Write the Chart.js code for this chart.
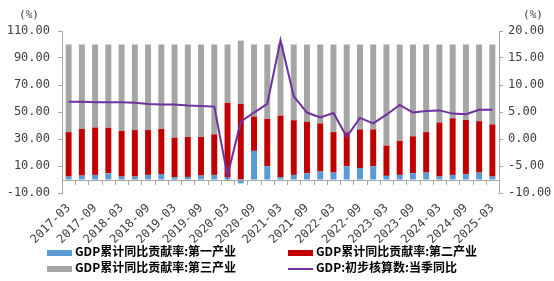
<!DOCTYPE html>
<html>
<head>
<meta charset="utf-8">
<script src="https://cdn.jsdelivr.net/npm/chart.js@4"></script>
<style>
    html, body { margin: 0; padding: 0; background: #fff; }
    #wrap { position: relative; width: 554px; height: 281px; }
    #legend { position: absolute; left: 0; top: 243px; width: 554px; font-family: "Noto Sans CJK SC", sans-serif; font-size: 12px; font-weight: bold; color: #000; }
    .item { position: absolute; height: 16px; line-height: 16px; white-space: nowrap; }
    .swatch { display: inline-block; width: 25px; vertical-align: middle; margin-right: 3px; }
</style>
</head>
<body>
<div id="wrap">
    <canvas id="chart" width="554" height="281"></canvas>
    <div id="legend"></div>
</div>
<script>
// Quarter labels
const quarters = [
    '2017-03', '2017-06', '2017-09', '2017-12',
    '2018-03', '2018-06', '2018-09', '2018-12',
    '2019-03', '2019-06', '2019-09', '2019-12',
    '2020-03', '2020-06', '2020-09', '2020-12',
    '2021-03', '2021-06', '2021-09', '2021-12',
    '2022-03', '2022-06', '2022-09', '2022-12',
    '2023-03', '2023-06', '2023-09', '2023-12',
    '2024-03', '2024-06', '2024-09', '2024-12',
    '2025-03'
];

// Contribution rates (%), left axis
const primary = [2.2, 2.9, 3.4, 4.6, 2.2, 2.2, 3.4, 4.1, 1.7, 1.9, 2.9, 3.4, 1.7, -2.9, 21.2, 9.8,
    1.7, 3.4, 4.6, 5.9, 5.1, 9.8, 8.5, 9.8, 2.7, 3.4, 4.6, 5.1, 2.2, 3.4, 3.9, 5.1, 2.2];
const secondary = [32.9, 34.6, 35.1, 33.7, 33.7, 34.4, 33.2, 33.4, 29.3, 29.6, 28.6, 30.0, 55.1, 55.9, 25.4, 35.1,
    45.6, 40.5, 38.1, 35.6, 30.0, 25.1, 28.6, 27.3, 22.4, 25.1, 27.4, 30.0, 40.0, 42.0, 40.2, 38.1, 38.6];
const tertiary = [64.9, 62.5, 61.5, 61.7, 64.1, 63.4, 63.4, 62.5, 69.0, 68.5, 68.5, 66.6, 43.2, 47.0, 53.4, 55.1,
    52.7, 56.1, 57.3, 58.5, 64.9, 65.1, 62.9, 62.9, 74.9, 71.5, 68.0, 64.9, 57.8, 54.6, 55.9, 56.8, 59.2];

// GDP quarterly YoY (%), right axis
const gdpYoy = [6.9, 6.9, 6.8, 6.8, 6.8, 6.7, 6.5, 6.4, 6.4, 6.2, 6.1, 6.0, -6.8, 3.2, 4.9, 6.5,
    18.3, 7.9, 4.9, 4.0, 4.8, 0.4, 3.9, 2.9, 4.5, 6.3, 4.9, 5.2, 5.3, 4.7, 4.6, 5.4, 5.4];

// Series names
const seriesNames = [
    'GDP累计同比贡献率:第一产业',
    'GDP累计同比贡献率:第二产业',
    'GDP累计同比贡献率:第三产业',
    'GDP:初步核算数:当季同比'
];

const colors = ['#5B9BD5', '#C00000', '#A5A5A5', '#7030A0'];
const axisColor = '#A6A6A6';
const tickFont = { family: 'DejaVu Sans Mono', size: 12 };

// Zero line with category ticks, plus the (%) unit labels
const extrasPlugin = {
    id: 'extras',
    afterDraw(chart) {
        const { ctx, chartArea, scales } = chart;
        const y0 = scales.y.getPixelForValue(0);
        ctx.save();
        ctx.strokeStyle = axisColor;
        ctx.lineWidth = 1;
        ctx.beginPath();
        ctx.moveTo(chartArea.left, Math.round(y0) + 0.5);
        ctx.lineTo(chartArea.right, Math.round(y0) + 0.5);
        const step = (chartArea.right - chartArea.left) / quarters.length;
        for (let i = 1; i < quarters.length; i++) {
            const x = Math.round(chartArea.left + step * i) + 0.5;
            ctx.moveTo(x, Math.round(y0));
            ctx.lineTo(x, Math.round(y0) + 5);
        }
        ctx.stroke();

        ctx.fillStyle = '#404040';
        ctx.font = '11px "DejaVu Sans Mono"';
        ctx.textAlign = 'center';
        ctx.textBaseline = 'middle';
        ctx.fillText('(%)', chartArea.left - 33, 15);
        ctx.fillText('(%)', chartArea.right + 34, 15);
        ctx.restore();
    }
};

// Build legend from series names and colors
function buildLegend() {
    const legend = document.getElementById('legend');
    const spots = [[47, 0], [288, 0], [47, 16], [288, 16]];
    seriesNames.forEach((name, i) => {
        const item = document.createElement('div');
        item.className = 'item';
        item.style.left = spots[i][0] + 'px';
        item.style.top = spots[i][1] + 'px';
        const sw = document.createElement('span');
        sw.className = 'swatch';
        sw.style.height = i === 3 ? '2px' : '6px';
        sw.style.background = colors[i];
        item.appendChild(sw);
        item.appendChild(document.createTextNode(name));
        legend.appendChild(item);
    });
}

function barSet(label, data, color) {
    return {
        type: 'bar',
        label: label,
        data: data,
        backgroundColor: color,
        yAxisID: 'y',
        stack: 'contrib',
        order: 1,
        barPercentage: 0.45,
        categoryPercentage: 1.0
    };
}

buildLegend();

new Chart(document.getElementById('chart'), {
    data: {
        labels: quarters,
        datasets: [
            barSet(seriesNames[0], primary, colors[0]),
            barSet(seriesNames[1], secondary, colors[1]),
            barSet(seriesNames[2], tertiary, colors[2]),
            {
                type: 'line',
                label: seriesNames[3],
                data: gdpYoy,
                borderColor: colors[3],
                borderWidth: 2,
                pointRadius: 0,
                tension: 0,
                yAxisID: 'y2',
                order: 0
            }
        ]
    },
    options: {
        responsive: false,
        animation: false,
        layout: { padding: { top: 31, left: 0, right: 0, bottom: 0 } },
        plugins: {
            legend: { display: false },
            tooltip: { enabled: false }
        },
        scales: {
            x: {
                stacked: true,
                offset: true,
                grid: { display: false },
                border: { display: false },
                ticks: {
                    autoSkip: false,
                    maxRotation: 45,
                    minRotation: 45,
                    color: '#404040',
                    font: tickFont,
                    padding: 0,
                    callback: function(value, index) {
                        return index % 2 === 0 ? quarters[index] : '';
                    }
                },
                afterFit: function(scale) { scale.height = 88; }
            },
            y: {
                position: 'left',
                stacked: true,
                min: -10,
                max: 110,
                border: { display: true, color: axisColor },
                grid: { drawOnChartArea: false, drawTicks: true, tickLength: 4, color: axisColor },
                ticks: {
                    stepSize: 20,
                    color: '#404040',
                    font: tickFont,
                    padding: 8,
                    callback: function(value) { return value.toFixed(2); }
                },
                afterFit: function(scale) { scale.width = 62; }
            },
            y2: {
                position: 'right',
                stacked: false,
                min: -10,
                max: 20,
                border: { display: true, color: axisColor },
                grid: { drawOnChartArea: false, drawTicks: true, tickLength: 4, color: axisColor },
                ticks: {
                    stepSize: 5,
                    color: '#404040',
                    font: tickFont,
                    padding: 5,
                    callback: function(value) { return value.toFixed(2); }
                },
                afterFit: function(scale) { scale.width = 55; }
            }
        }
    },
    plugins: [extrasPlugin]
});
</script>
</body>
</html>
